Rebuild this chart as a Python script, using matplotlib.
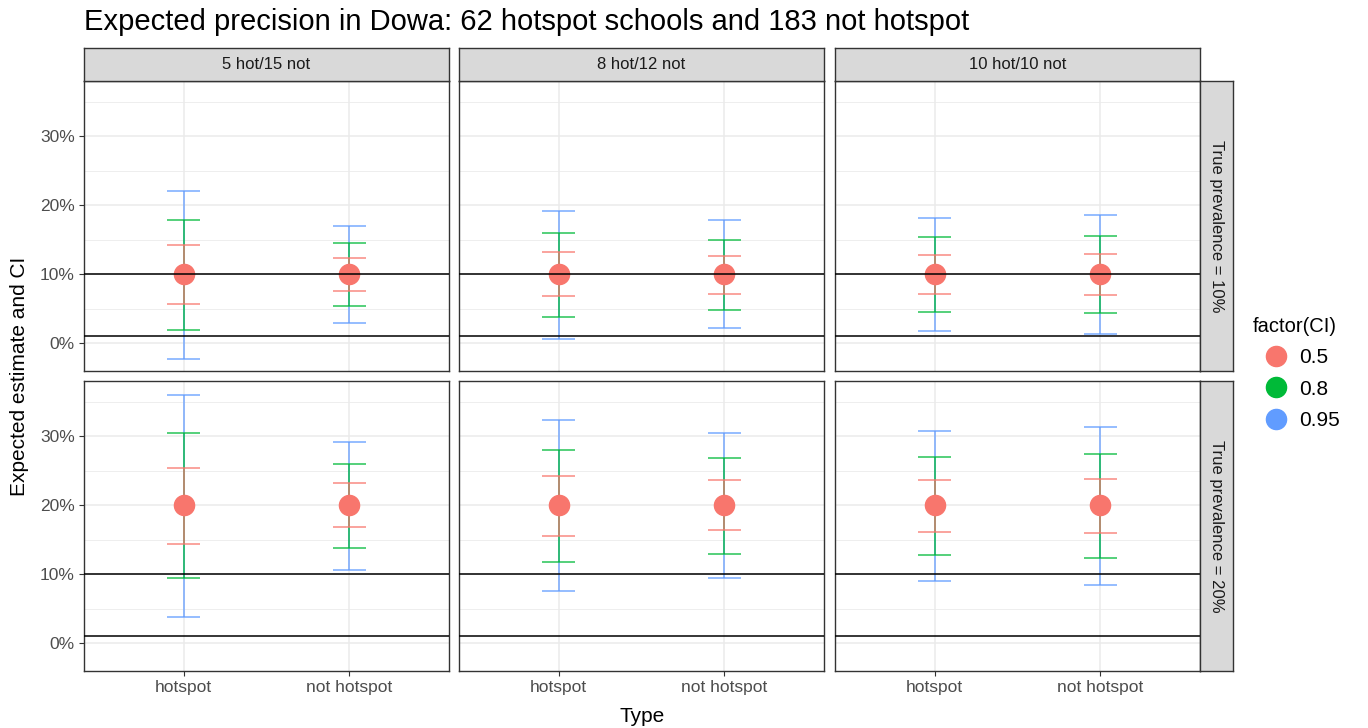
import matplotlib
matplotlib.use("Agg")
from matplotlib import pyplot as plt
from matplotlib.lines import Line2D
import numpy as np

plt.rcParams['font.family'] = ['Liberation Sans', 'DejaVu Sans']

# facet levels
designs = ["5 hot/15 not", "8 hot/12 not", "10 hot/10 not"]
prev_labels = ["True prevalence = 10%", "True prevalence = 20%"]
types = ["hotspot", "not hotspot"]
ci_levels = ["0.5", "0.8", "0.95"]
ci_colors = ["#F8766D", "#00BA38", "#619CFF"]
ref_lines = [0.01, 0.10]

# order: prevalence 10% then 20%; in each: 5/15, 8/12, 10/10; in each: hotspot, not hotspot
estimate = [0.10, 0.10, 0.10, 0.10, 0.10, 0.10,
            0.20, 0.20, 0.20, 0.20, 0.20, 0.20]
lo_50 = [0.057, 0.076, 0.068, 0.072, 0.072, 0.070,
         0.144, 0.168, 0.156, 0.164, 0.162, 0.160]
hi_50 = [0.142, 0.124, 0.132, 0.126, 0.128, 0.130,
         0.254, 0.232, 0.242, 0.236, 0.236, 0.238]
lo_80 = [0.020, 0.054, 0.038, 0.048, 0.046, 0.044,
         0.094, 0.138, 0.118, 0.130, 0.128, 0.124]
hi_80 = [0.178, 0.146, 0.160, 0.150, 0.154, 0.156,
         0.304, 0.260, 0.280, 0.268, 0.270, 0.274]
lo_95 = [-0.022, 0.029, 0.006, 0.022, 0.018, 0.014,
         0.038, 0.106, 0.076, 0.094, 0.090, 0.084]
hi_95 = [0.220, 0.170, 0.192, 0.178, 0.182, 0.186,
         0.360, 0.292, 0.324, 0.304, 0.308, 0.314]

lows = [lo_50, lo_80, lo_95]
highs = [hi_50, hi_80, hi_95]

W, H = 1368, 728
fig = plt.figure(figsize=(W / 100, H / 100), dpi=100)

def box(x0, y0, w, h):
    return [x0 / W, 1 - (y0 + h) / H, w / W, h / H]

col_x = [84, 459, 835]
row_y = [81, 381]
pw, ph = 365, 290
strip = 33
border = "#333333"

for r in range(2):
    for c in range(3):
        ax = fig.add_axes(box(col_x[c], row_y[r], pw, ph))
        idx = r * 6 + c * 2
        xs = np.array([1, 2])
        # widest interval first so the narrow ones sit on top
        for k in [2, 1, 0]:
            lo = np.array(lows[k][idx:idx + 2])
            hi = np.array(highs[k][idx:idx + 2])
            ax.vlines(xs, lo, hi, color=ci_colors[k], lw=1.1, alpha=0.85, zorder=3 + (2 - k))
            ax.hlines(lo, xs - 0.1, xs + 0.1, color=ci_colors[k], lw=1.1, alpha=0.85, zorder=3 + (2 - k))
            ax.hlines(hi, xs - 0.1, xs + 0.1, color=ci_colors[k], lw=1.1, alpha=0.85, zorder=3 + (2 - k))
        ax.plot(xs, estimate[idx:idx + 2], "o", color=ci_colors[0], ms=14.5, zorder=7)
        for yl in ref_lines:
            ax.axhline(yl, color="black", lw=1.1, zorder=8)

        ax.set_xlim(0.4, 2.6)
        ax.set_ylim(-0.040, 0.380)
        ax.set_yticks([0, 0.1, 0.2, 0.3])
        ax.set_yticks([0.05, 0.15, 0.25, 0.35], minor=True)
        ax.set_xticks([1, 2])
        ax.grid(True, which="major", color="#EBEBEB", lw=1.1, zorder=0)
        ax.grid(True, which="minor", axis="y", color="#EBEBEB", lw=0.6, zorder=0)
        ax.set_axisbelow(True)
        ax.tick_params(which="minor", length=0)
        ax.tick_params(which="major", length=3.5, color=border, labelcolor="#4D4D4D",
                       labelsize=12.5, pad=3)
        for s in ax.spines.values():
            s.set_color(border)
            s.set_linewidth(1.0)
        if c == 0:
            ax.set_yticklabels(["0%", "10%", "20%", "30%"])
        else:
            ax.tick_params(axis="y", left=False, labelleft=False)
        if r == 1:
            ax.set_xticklabels(types)
        else:
            ax.tick_params(axis="x", bottom=False, labelbottom=False)

        # top strip
        if r == 0:
            sax = fig.add_axes(box(col_x[c], row_y[0] - strip, pw, strip))
            sax.set_facecolor("#D9D9D9")
            sax.set_xticks([])
            sax.set_yticks([])
            for s in sax.spines.values():
                s.set_color(border)
                s.set_linewidth(1.0)
            sax.text(0.5, 0.5, designs[c], ha="center", va="center",
                     fontsize=12, color="#1A1A1A", transform=sax.transAxes)
        # right strip
        if c == 2:
            sax = fig.add_axes(box(col_x[2] + pw, row_y[r], strip, ph))
            sax.set_facecolor("#D9D9D9")
            sax.set_xticks([])
            sax.set_yticks([])
            for s in sax.spines.values():
                s.set_color(border)
                s.set_linewidth(1.0)
            sax.text(0.5, 0.5, prev_labels[r], ha="center", va="center", rotation=-90,
                     fontsize=12, color="#1A1A1A", transform=sax.transAxes)

fig.text(84 / W, 1 - 22 / H, "Expected precision in Dowa: 62 hotspot schools and 183 not hotspot",
         ha="left", va="center", fontsize=21, color="black")
fig.text(20 / W, 1 - 376 / H, "Expected estimate and CI", rotation=90,
         ha="center", va="center", fontsize=15, color="black")
fig.text((84 + 1200) / 2 / W, 1 - 716 / H, "Type", ha="center", va="center",
         fontsize=15, color="black")

handles = [Line2D([], [], marker="o", ms=14.5, color=col, lw=1.1, linestyle="none")
           for col in ci_colors]
fig.legend(handles, ci_levels, title="factor(CI)", loc="upper left",
           bbox_to_anchor=(1234 / W, 1 - 298 / H), frameon=False,
           fontsize=15, title_fontsize=14.5, handlelength=2.2, handletextpad=0.05,
           labelspacing=0.6, alignment="left")

fig.savefig("out.png", dpi=100)
